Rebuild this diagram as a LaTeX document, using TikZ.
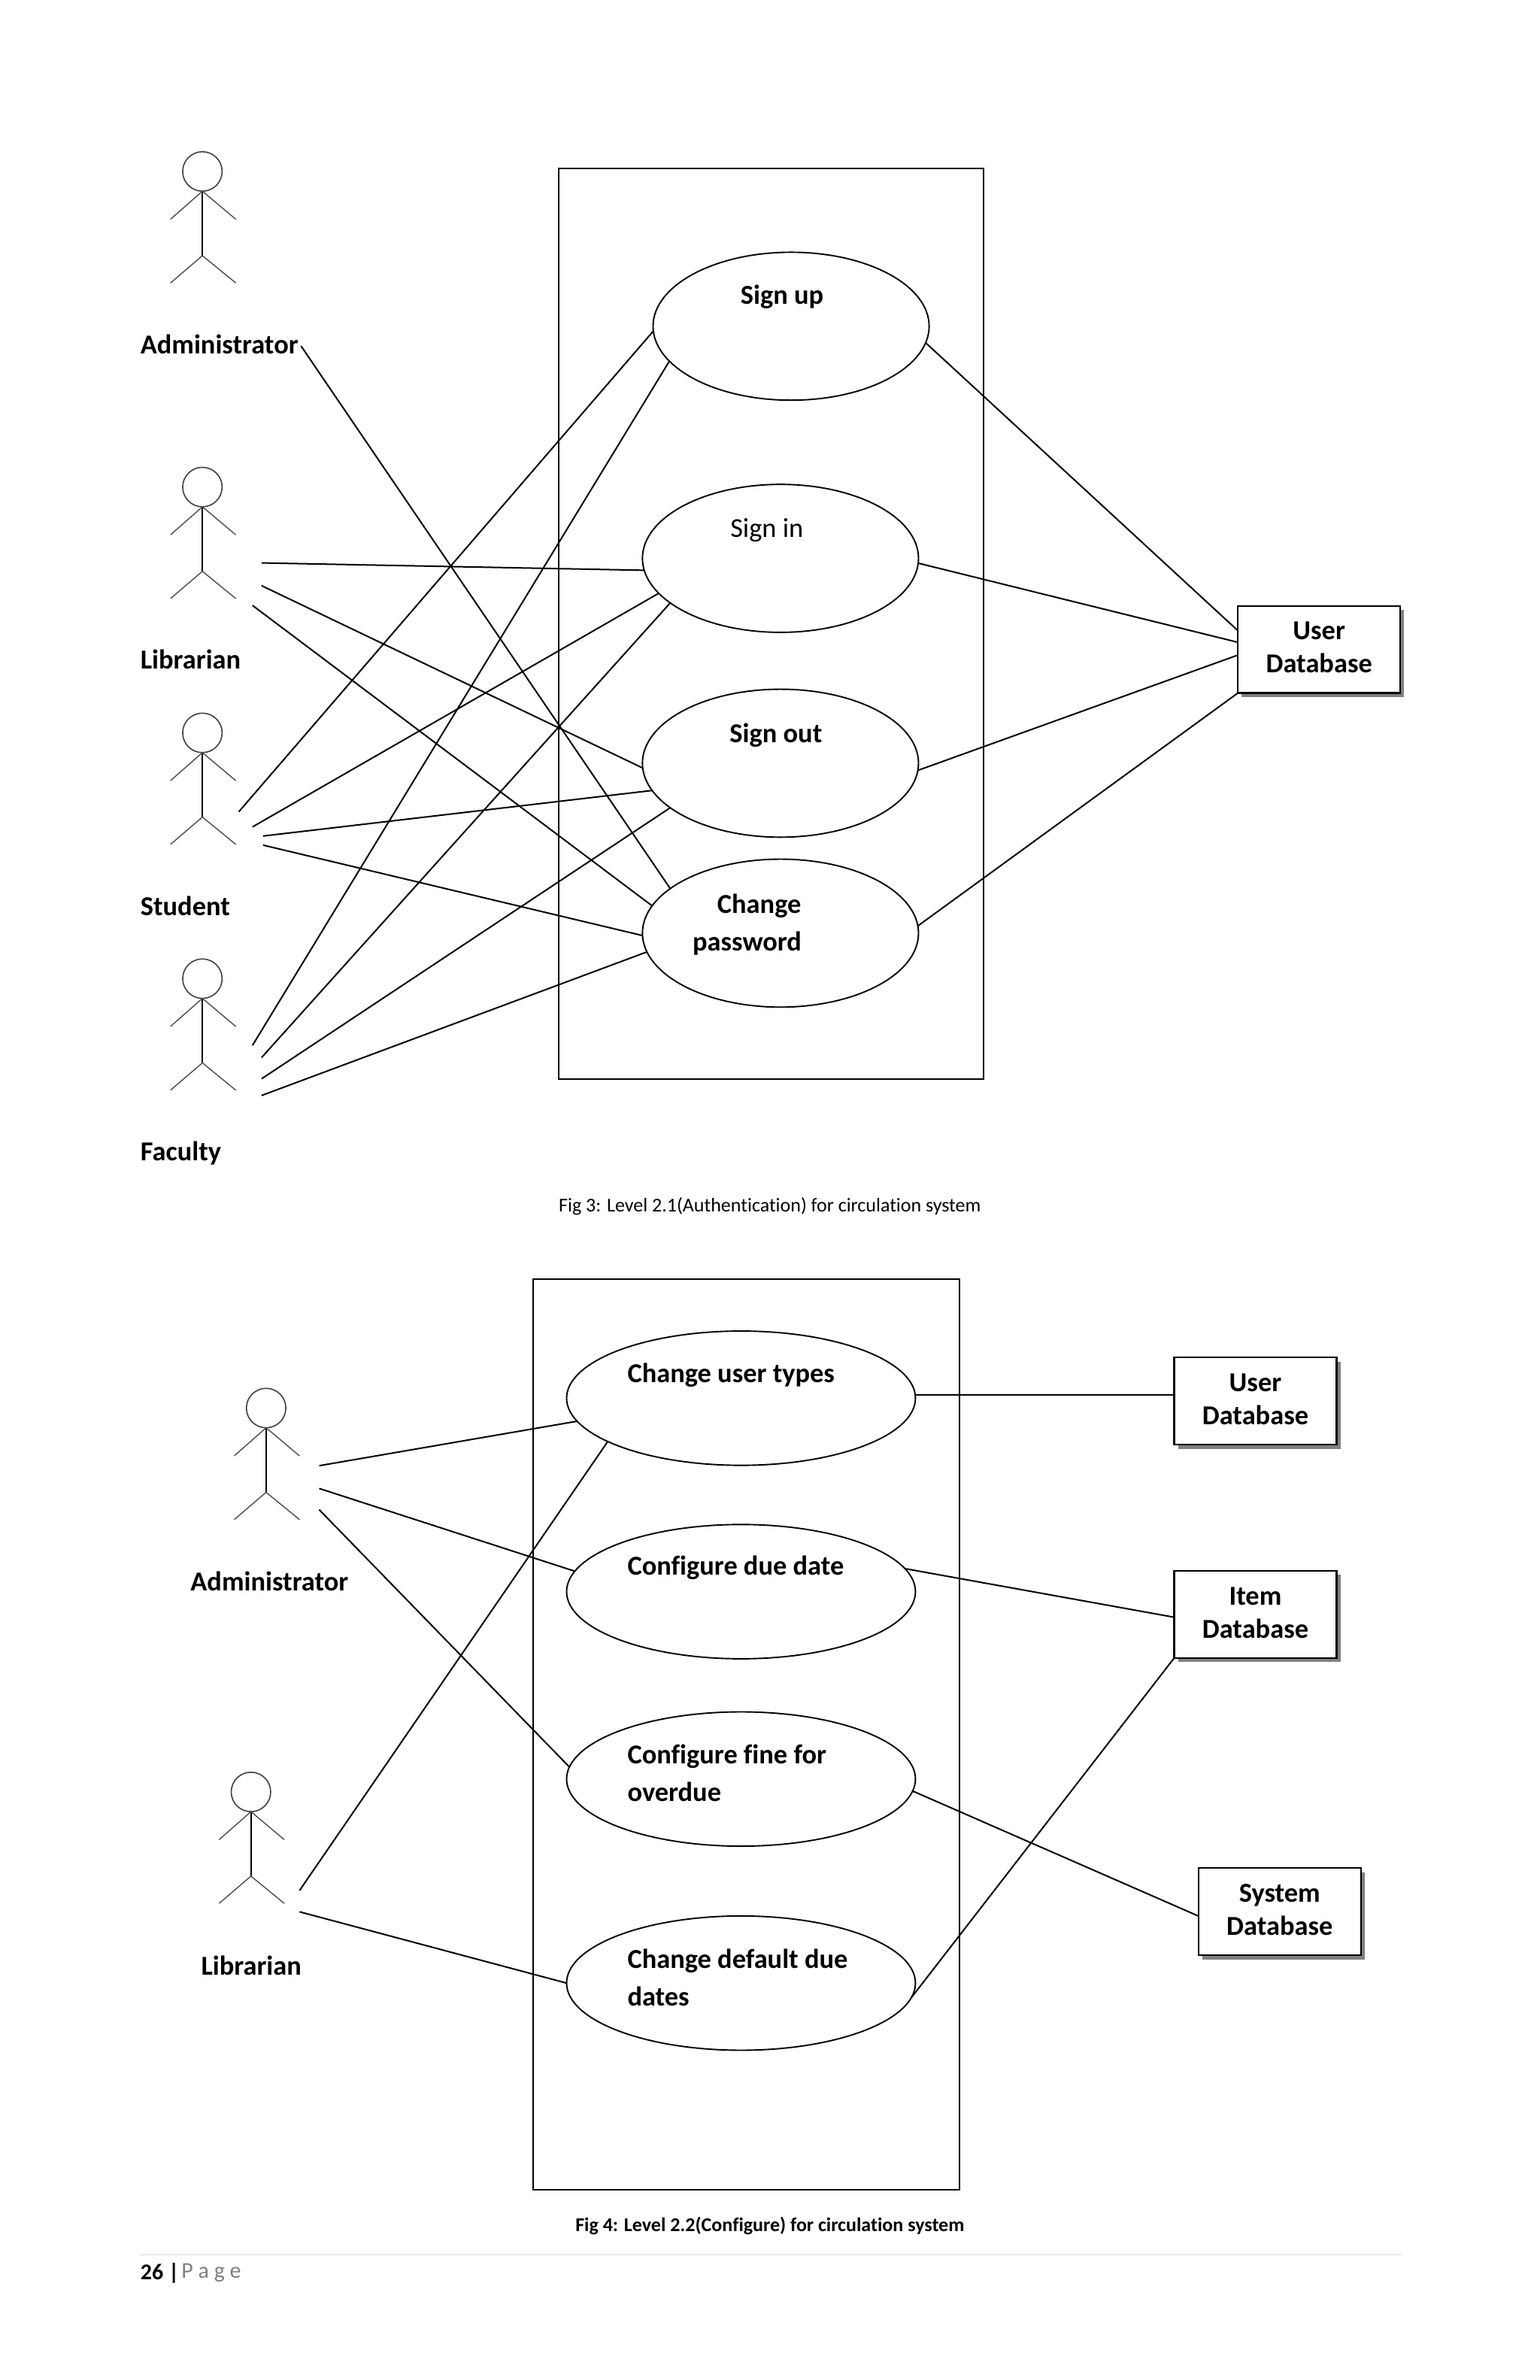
\documentclass[tikz,border=0pt]{standalone}
\usepackage{fontspec}
\setmainfont[Ligatures=NoCommon]{Carlito}
\usetikzlibrary{shapes.geometric,shadows}
\newcommand\dbline[1]{\raisebox{-4.7pt}[0pt][0pt]{#1}}
\tikzset{
  x=1.009pt,y=-1.009pt,
  link/.style={draw=black,line width=1pt},
  sysbox/.style={draw=black,line width=1pt},
  uc1/.style={ellipse,draw=black,line width=0.95pt,inner sep=0pt,outer sep=0pt,minimum width=183.6pt,minimum height=98.4pt},
  uc2/.style={ellipse,draw=black,line width=0.95pt,inner sep=0pt,outer sep=0pt,minimum width=232pt,minimum height=89.3pt},
  dbbox/.style={rectangle,draw=black,line width=1.1pt,fill=white,inner sep=0pt,outer sep=0pt,minimum width=108pt,minimum height=58pt,align=center,
     font=\fontsize{18.2}{22}\selectfont\bfseries,
     drop shadow={shadow xshift=2.6pt,shadow yshift=-2.6pt,fill=black!50,opacity=1}},
  lab/.style={anchor=west,inner sep=0pt,yshift=-1pt,text height=11.5pt,text depth=0pt,font=\fontsize{18.2}{22}\selectfont\bfseries},
  uclab/.style={anchor=west,inner sep=0pt,yshift=-1pt,text height=11.5pt,text depth=0pt,font=\fontsize{18.2}{25}\selectfont\bfseries,align=left},
  capt/.style={inner sep=0pt},
  stickman/.pic={
    \draw[line width=0.8pt,black!75] (0,-13) circle[radius=13];
    \draw[line width=0.9pt] (0,0) -- (0,42.5);
    \draw[line width=0.7pt,black!70] (-21,18.5) -- (0,0) -- (22,18.5);
    \draw[line width=0.7pt,black!70] (-21,60.5) -- (0,42.5) -- (22,60.5);
  }
}
\begin{document}
\begin{tikzpicture}
\useasboundingbox (-0.4,0) rectangle (1014.6,1568.6);
\fill[white] (-0.4,0) rectangle (1014.6,1568.6);
% ---------- Figure 3
\draw[sysbox] (368,111) rectangle (648,711);
\pic at (133,126) {stickman};
\pic at (133,334) {stickman};
\pic at (133,496) {stickman};
\pic at (133,658) {stickman};
\node[lab] (ladm) at (92,226.5) {Administrator};
\node[lab] (llib) at (92,434) {Librarian};
\node[lab] (lstu) at (92,596.5) {Student};
\node[lab] (lfac) at (92,758.5) {Faculty};
\node[uc1] (su) at (521,215) {};
\node[uc1] (si) at (514,368) {};
\node[uc1] (so) at (514,503) {};
\node[uc1] (cp) at (514,615) {};
\node[uclab,anchor=center] (tsu) at (515,194) {Sign up};
\node[uclab,anchor=center,font=\fontsize{18.2}{25}\selectfont] (tsi) at (505,347.5) {Sign in};
\node[uclab,anchor=center] (tso) at (511,482.5) {Sign out};
\node[uclab,anchor=center] (tcp1) at (500,595) {Change};
\node[uclab,anchor=center] (tcp2) at (492,620) {password};
\node[dbbox] (db) at (869,428) {\dbline{User}\\\dbline{Database}};
\coordinate (a0) at (198,228);
\coordinate (l1) at (172,371);
\coordinate (l2) at (172,386);
\coordinate (l3) at (166,399);
\coordinate (s1) at (157,535);
\coordinate (s2) at (166,545);
\coordinate (s3) at (173,551);
\coordinate (s4) at (173,557);
\coordinate (f1) at (166,689);
\coordinate (f2) at (172,697);
\coordinate (f3) at (172,711);
\coordinate (f4) at (172,722);
\draw[link] (a0) -- (cp.158);
\draw[link] (l1) -- (si.185.7);
\draw[link] (l2) -- (so.182.5);
\draw[link] (l3) -- (cp.168.8);
\draw[link] (s1) -- (su.182);
\draw[link] (s2) -- (si.196);
\draw[link] (s3) -- (so.192.2);
\draw[link] (s4) -- (cp.181.4);
\draw[link] (f1) -- (su.196.5);
\draw[link] (f2) -- (si.202.7);
\draw[link] (f3) -- (so.202);
\draw[link] (f4) -- (cp.188.8);
\draw[link] (su.353) -- (db.167.4);
\draw[link] (si.358) -- (db.175.7);
\draw[link] (so.357.5) -- (db.184.3);
\draw[link] (cp.3) -- (db.south west);
\node[capt,font=\fontsize{13}{16}\selectfont] (c3) at (507,795) {Fig 3: Level 2.1(Authentication) for circulation system};
% ---------- Figure 4
\draw[sysbox] (351,843) rectangle (632,1443);
\pic at (175,941) {stickman};
\pic at (165,1194) {stickman};
\node[lab] (ladm2) at (125,1042) {Administrator};
\node[lab] (llib2) at (132,1295) {Librarian};
\node[uc2] (cu) at (488,921.5) {};
\node[uc2] (cd) at (488,1049) {};
\node[uc2] (cf) at (488,1172.5) {};
\node[uc2] (cx) at (488,1307) {};
\node[uclab] (tcu) at (413,904.5) {Change user types};
\node[uclab] (tcd) at (413,1031.5) {Configure due date};
\node[uclab] (tcf1) at (413,1155.5) {Configure fine for};
\node[uclab] (tcf2) at (413,1180.5) {overdue};
\node[uclab] (tcx1) at (413,1290.5) {Change default due};
\node[uclab] (tcx2) at (413,1315.5) {dates};
\node[dbbox] (ub) at (827,923.5) {\dbline{User}\\\dbline{Database}};
\node[dbbox] (ib) at (827,1064) {\dbline{Item}\\\dbline{Database}};
\node[dbbox] (sb) at (843,1260) {\dbline{System}\\\dbline{Database}};
\coordinate (a1) at (210,966);
\coordinate (a2) at (210,981);
\coordinate (a3) at (210,995);
\coordinate (b1) at (197,1246);
\coordinate (b2) at (197,1260);
\draw[link] (a1) -- (cu.188.3);
\draw[link] (a2) -- (cd.173.5);
\draw[link] (a3) -- (cf.176.7);
\draw[link] (b1) -- (cu.198.7);
\draw[link] (b2) -- (cx.west);
\draw[link] (cu.1) -- (cu.1 -| ub.west);
\draw[link] (cd.8) -- (ib.182);
\draw[link] (cf.356) -- (sb.183.2);
\draw[link] (cx.355) -- (ib.south west);
\node[capt,font=\fontsize{13}{16}\selectfont\bfseries] (c4) at (507,1467) {Fig 4: Level 2.2(Configure) for circulation system};
% ---------- Footer
\coordinate (r1) at (92,1486);
\coordinate (r2) at (924,1486);
\draw[black!15,line width=0.7pt] (r1) -- (r2);
\node[anchor=west,inner sep=0pt,font=\fontsize{15}{16}\selectfont\bfseries] (pn) at (92,1498) {26 |};
\node[anchor=west,inner sep=0pt,font=\fontsize{15}{16}\selectfont,text=black!50] (pg) at (119,1498) {P a g e};
\end{tikzpicture}
\end{document}
